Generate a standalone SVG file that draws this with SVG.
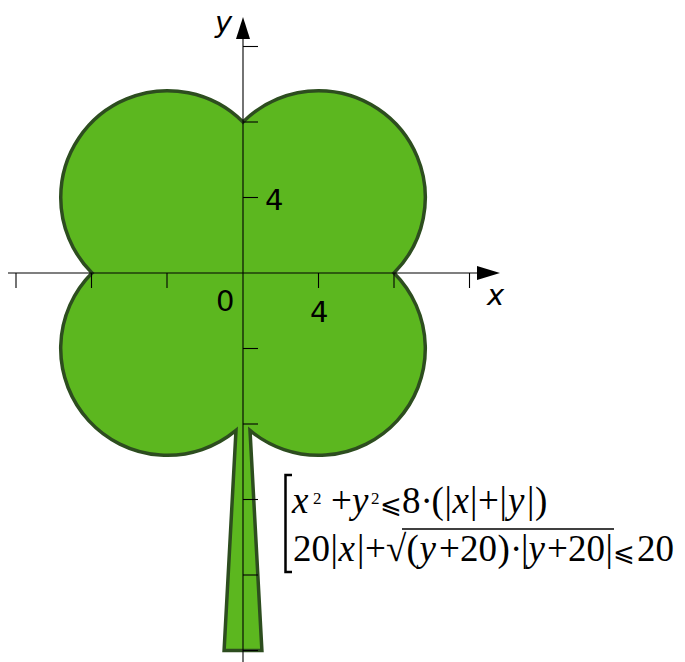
<svg xmlns="http://www.w3.org/2000/svg" width="685" height="662" viewBox="0 0 685 662">
<style>
.clover{fill:#5cb71f;stroke:#2d4d1f;stroke-width:3.5;stroke-linejoin:miter;stroke-miterlimit:10}
.ax{stroke:#000;stroke-width:1.1;fill:none}
.tick{stroke:#000;stroke-width:1.1}
.arrow{fill:#000}
.lbl{font-family:"DejaVu Sans","Liberation Sans",sans-serif;font-size:29px;fill:#000}
.it{font-style:italic}
.f{font-family:"Liberation Serif","DejaVu Serif","DejaVu Sans",serif;font-size:37px;fill:#000}
.sup{font-size:17px}
.le{font-family:"DejaVu Serif","DejaVu Sans",serif;font-size:26px}
.br{stroke:#000;stroke-width:2.5;fill:none}
</style>
<g id="clover">
<path class="clover" d="M243 122 A106.77 106.77 0 0 1 318.5 90.73 A106.77 106.77 0 0 1 394 273 A106.77 106.77 0 0 1 250 430.4 L261.9 650.5 L224.1 650.5 L236 430.4 A106.77 106.77 0 0 1 92 273 A106.77 106.77 0 0 1 60.73 197.5 A106.77 106.77 0 0 1 243 122 Z"/>
</g>
<g id="axes">
<line class="ax" x1="8" y1="273" x2="480" y2="273"/>
<polygon class="arrow" points="500,273 477,266 477,280"/>
<line class="ax" x1="243" y1="662" x2="243" y2="35"/>
<polygon class="arrow" points="243,17 236,39 250,39"/>
<g class="tick">
<line x1="16" y1="273" x2="16" y2="288"/>
<line x1="91.5" y1="273" x2="91.5" y2="288"/>
<line x1="167" y1="273" x2="167" y2="288"/>
<line x1="318.5" y1="273" x2="318.5" y2="288"/>
<line x1="394" y1="273" x2="394" y2="288"/>
<line x1="469.5" y1="273" x2="469.5" y2="288"/>
<line x1="243" y1="46.5" x2="258" y2="46.5"/>
<line x1="243" y1="122" x2="258" y2="122"/>
<line x1="243" y1="197.5" x2="258" y2="197.5"/>
<line x1="243" y1="348.5" x2="258" y2="348.5"/>
<line x1="243" y1="424" x2="258" y2="424"/>
<line x1="243" y1="499.5" x2="258" y2="499.5"/>
<line x1="243" y1="575" x2="258" y2="575"/>
<line x1="243" y1="650.5" x2="258" y2="650.5"/>
</g>
<text class="lbl it" x="215" y="32">y</text>
<text class="lbl it" x="487" y="305">x</text>
<text class="lbl" x="265" y="210">4</text>
<text class="lbl" x="216" y="311">0</text>
<text class="lbl" x="310" y="322">4</text>
</g>
<g id="formula">
<path class="br" d="M292 475 H285.5 V572 H292"/>
<text class="f" y="513"><tspan class="it" x="292">x</tspan><tspan class="sup" x="313" y="504">2</tspan><tspan x="331" y="513">+</tspan><tspan class="it" x="352">y</tspan><tspan class="sup" x="371" y="504">2</tspan><tspan class="le" x="380" y="513">⩽</tspan><tspan x="402">8</tspan><tspan x="420.5">·</tspan><tspan x="431.5">(</tspan><tspan x="444.5">|</tspan><tspan class="it" x="452.5">x</tspan><tspan x="470">|</tspan><tspan x="478">+</tspan><tspan x="499.5">|</tspan><tspan class="it" x="508">y</tspan><tspan x="527">|</tspan><tspan x="535">)</tspan></text>
<text class="f" y="561"><tspan x="293">20</tspan><tspan x="330.5">|</tspan><tspan class="it" x="338.5">x</tspan><tspan x="357">|</tspan><tspan x="365">+</tspan><tspan x="386">√</tspan><tspan x="406.5">(</tspan><tspan class="it" x="419.5">y</tspan><tspan x="439">+</tspan><tspan x="460">20</tspan><tspan x="497.5">)</tspan><tspan x="510">·</tspan><tspan x="521">|</tspan><tspan class="it" x="528.5">y</tspan><tspan x="547">+</tspan><tspan x="568">20</tspan><tspan x="605.5">|</tspan><tspan class="le" x="613">⩽</tspan><tspan x="637">20</tspan></text>
<line x1="402" y1="529" x2="614" y2="529" stroke="#000" stroke-width="1.6"/>
</g>
</svg>
